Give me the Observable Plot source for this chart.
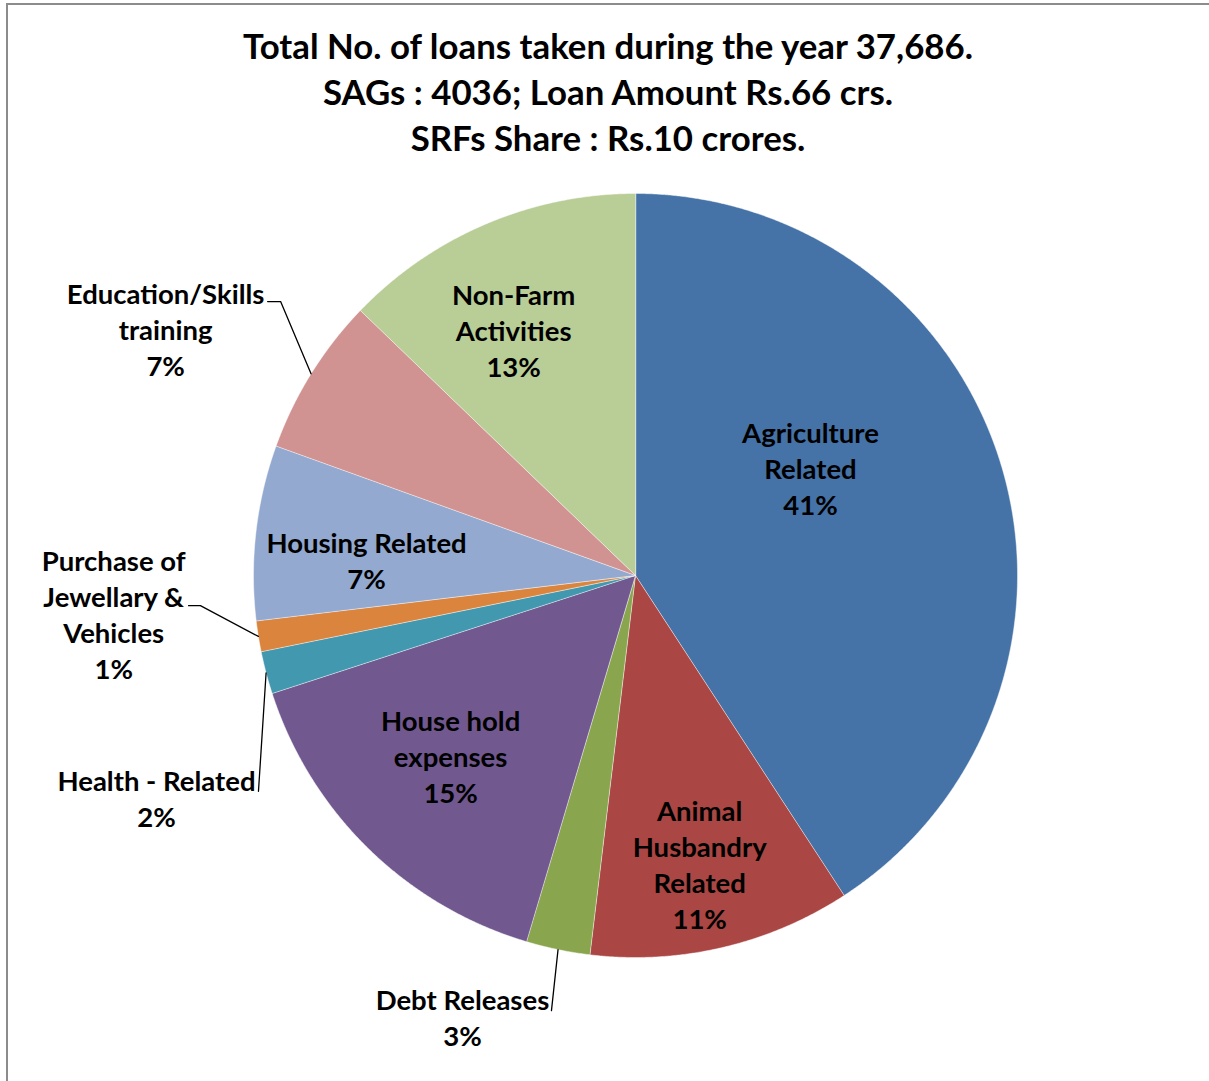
<!DOCTYPE html>
<html>
<head>
<meta charset="utf-8">
<script src="https://cdn.jsdelivr.net/npm/d3@7"></script>
<script src="https://cdn.jsdelivr.net/npm/@observablehq/plot@0.6"></script>
<style>
  html, body { margin: 0; padding: 0; background: #fff; overflow: hidden; }
  body { width: 1209px; height: 1081px; position: relative; font-family: Lato, "Open Sans", sans-serif; }
  #frame { position: absolute; left: 6px; top: 3px; width: 1300px; height: 1200px; border-left: 2px solid #8c8c8c; border-top: 2px solid #8c8c8c; }
  #title { position: absolute; left: 0; top: 23px; width: 1216px; text-align: center; font-weight: bold; font-size: 34.8px; line-height: 46px; color: #000; }
  #chart { position: absolute; left: 0; top: 165px; }
</style>
</head>
<body>
<div id="frame"></div>
<div id="title">Total No. of loans taken during the year 37,686.<br>SAGs : 4036; Loan Amount Rs.66 crs.<br>SRFs Share : Rs.10 crores.</div>
<div id="chart"></div>
<script>
// ---- data ----
const categories = ["Agriculture Related", "Animal Husbandry Related", "Debt Releases", "House hold expenses", "Health - Related", "Purchase of Jewellary & Vehicles", "Housing Related", "Education/Skills training", "Non-Farm Activities"];
const labelLines = ["Agriculture\nRelated", "Animal\nHusbandry\nRelated", "Debt Releases", "House hold\nexpenses", "Health - Related", "Purchase of\nJewellary &\nVehicles", "Housing Related", "Education/Skills\ntraining", "Non-Farm\nActivities"];
const shares = [40.8, 11.1, 2.7, 15.4, 1.8, 1.3, 7.4, 6.7, 12.8];
const colors = ["#4572A7", "#AA4643", "#89A54E", "#71588F", "#4198AF", "#DB843D", "#93A9CF", "#D19392", "#B9CD96"];

// ---- layout (label placement in pie-radius units, relative to centre) ----
const labelAt = [[0.458, 0.283], [0.168, -0.753], [-0.453, -1.154], [-0.484, -0.470], [-1.254, -0.580], [-1.366, -0.099], [-0.704, 0.043], [-1.230, 0.647], [-0.319, 0.645]];
const leaderTail = { // extra points of the leader after the slice edge
  2: [[-0.220, -1.139]],
  4: [[-0.987, -0.565]],
  5: [[-1.139, -0.079], [-1.170, -0.079]],
  7: [[-0.929, 0.717], [-0.963, 0.717]]
};

const W = 1209, H = 916, R = 382, CX = 635, CY = 410;

const arcs = d3.pie().sort(null).value(d => d)(shares);
const slicePts = [];
const labels = [];
const leaderPts = [];
arcs.forEach((p, i) => {
  const cat = categories[i];
  slicePts.push({cat, x: 0, y: 0});
  const n = Math.max(4, Math.ceil((p.endAngle - p.startAngle) / 0.004));
  for (let k = 0; k <= n; k++) {
    const a = p.startAngle + (p.endAngle - p.startAngle) * k / n;
    slicePts.push({cat, x: Math.sin(a), y: Math.cos(a)});
  }
  labels.push({x: labelAt[i][0], y: labelAt[i][1], text: labelLines[i] + "\n" + Math.round(shares[i]) + "%"});
  if (leaderTail[i]) {
    const m = (p.startAngle + p.endAngle) / 2;
    leaderPts.push({cat, x: Math.sin(m), y: Math.cos(m)});
    leaderTail[i].forEach(([x, y]) => leaderPts.push({cat, x, y}));
  }
});

const plot = Plot.plot({
  width: W,
  height: H,
  margin: 0,
  x: {domain: [-CX / R, (W - CX) / R], axis: null},
  y: {domain: [-(H - CY) / R, CY / R], axis: null},
  color: {domain: categories, range: colors},
  style: {background: "transparent", overflow: "visible"},
  marks: [
    Plot.line(slicePts, {x: "x", y: "y", z: "cat", fill: "cat", stroke: "#ffffff", strokeWidth: 1, strokeOpacity: 0.45, curve: "linear-closed"}),
    Plot.line(leaderPts, {x: "x", y: "y", z: "cat", stroke: "#000", strokeWidth: 1.3}),
    Plot.text(labels, {x: "x", y: "y", text: "text", fontFamily: "Lato, sans-serif", fontWeight: "bold", fontSize: 27.5, lineHeight: 1.31, fill: "#000"})
  ]
});
document.getElementById("chart").appendChild(plot);
</script>
</body>
</html>
